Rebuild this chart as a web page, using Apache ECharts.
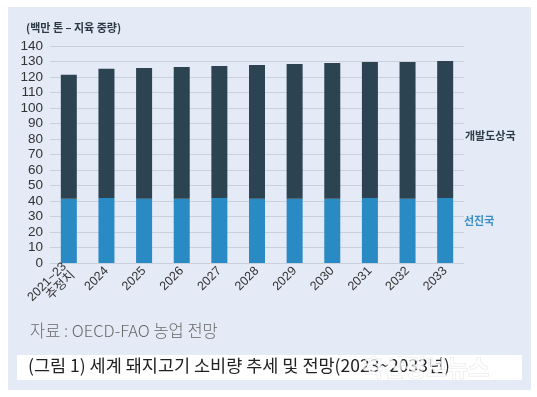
<!DOCTYPE html>
<html><head><meta charset="utf-8">
<script src="https://cdn.jsdelivr.net/npm/echarts@6/dist/echarts.min.js"></script>
<style>html,body{margin:0;padding:0;background:#fff}#c{width:537px;height:397px}</style>
</head><body><div id="c"></div>
<script>
var categories = ['2021~23\n추정치','2024','2025','2026','2027','2028','2029','2030','2031','2032','2033'];
var totals = [121.5,125.3,125.8,126.5,127.1,127.7,128.4,129.0,129.7,129.7,130.3];
var developed = [41.5,42.0,41.5,41.5,42.0,41.5,41.5,41.5,42.0,41.5,42.0];
var developing = totals.map(function(t,i){return +(t - developed[i]).toFixed(1);});
var yTicks = [0,10,20,30,40,50,60,70,80,90,100,110,120,130,140];

var chart = echarts.init(document.getElementById('c'), null, {renderer:'canvas'});
var font = '"Liberation Sans", "Noto Sans CJK KR", sans-serif';
chart.setOption({
  backgroundColor: '#ffffff',
  animation: false,
  textStyle: {fontFamily: font},
  graphic: [
    {type:'rect', z:-10, shape:{x:8,y:7,width:523,height:383}, style:{fill:'#e4eaf6'}},
    {type:'text', left:26, top:22, style:{text:'(백만 톤 – 지육 중량)', font:'bold 11px "Noto Sans CJK KR"', fill:'#2b3a45'}},
    {type:'text', left:465, top:130, style:{text:'개발도상국', font:'bold 11px "Noto Sans CJK KR"', fill:'#2c3e4a'}},
    {type:'text', left:464, top:215, style:{text:'선진국', font:'bold 11px "Noto Sans CJK KR"', fill:'#3a8fc6'}},
    {type:'text', left:30, top:322, style:{text:'자료 : OECD-FAO 농업 전망', font:'300 16.5px "Noto Sans CJK KR"', fill:'#6a6a6a'}},
    {type:'rect', shape:{x:17,y:355,width:505,height:25}, style:{fill:'#ffffff'}},
    {type:'text', left:28, top:357, style:{text:'(그림 1) 세계 돼지고기 소비량 추세 및 전망(2023~2033년)', font:'17.5px "Noto Sans CJK KR"', fill:'#222222'}},
    {type:'text', left:362, top:355, z:100, style:{text:'축산정보뉴스', font:'bold 23px "Noto Sans CJK KR"', fill:'rgba(255,255,255,0.75)', stroke:'rgba(180,190,200,0.35)', lineWidth:1}}
  ],
  grid: {left:50, right:73, top:46, bottom:134},
  xAxis: {
    type:'category', data: categories,
    axisLine:{show:false}, axisTick:{show:false},
    axisLabel:{rotate:45, fontSize:12.5, color:'#333', margin:6, lineHeight:12, interval:0, fontFamily:font}
  },
  yAxis: {
    type:'value', min:0, max:140, interval:10,
    axisLine:{show:false}, axisTick:{show:false},
    axisLabel:{fontSize:13.5, color:'#333', margin:7, fontFamily:font,
      formatter:function(v){return yTicks.indexOf(v)>=0 ? String(v) : '';}},
    splitLine:{lineStyle:{color:'#c9d0dc', width:1}}
  },
  series: [
    {name:'선진국', type:'bar', stack:'a', data: developed, barWidth:16, itemStyle:{color:'#2a8ac4'}},
    {name:'개발도상국', type:'bar', stack:'a', data: developing, barWidth:16, itemStyle:{color:'#2c4351'}}
  ]
});
</script></body></html>
